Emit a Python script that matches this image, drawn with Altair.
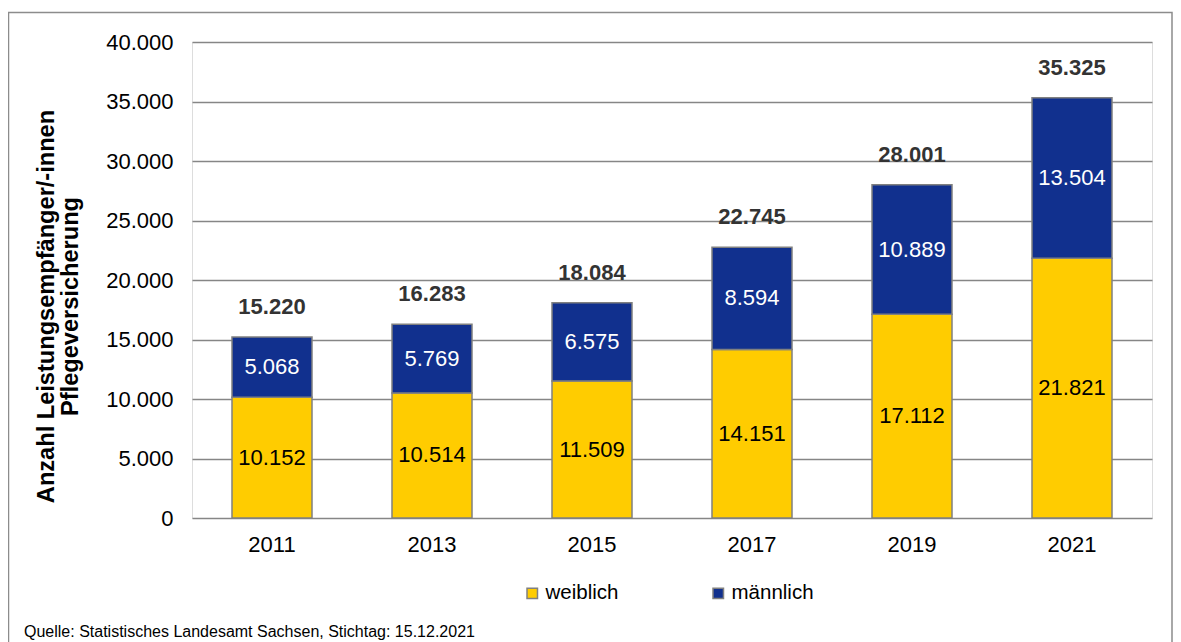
import altair as alt
import pandas as pd

years = ["2011", "2013", "2015", "2017", "2019", "2021"]
weiblich = [10152, 10514, 11509, 14151, 17112, 21821]
maennlich = [5068, 5769, 6575, 8594, 10889, 13504]
series = ["weiblich", "männlich"]
colors = ["#FFCC00", "#11308E"]
label_colors = ["#000000", "#FFFFFF"]

rows = []
for i, y in enumerate(years):
    rows.append({"Jahr": y, "Geschlecht": series[0], "Wert": weiblich[i], "ord": 0, "lc": label_colors[0]})
    rows.append({"Jahr": y, "Geschlecht": series[1], "Wert": maennlich[i], "ord": 1, "lc": label_colors[1]})
df = pd.DataFrame(rows)

FONT = "Liberation Sans"
de_fmt = "replace(format(datum.Wert, ','), ',', '.')"

x_enc = alt.X(
    "Jahr:N",
    sort=years,
    scale=alt.Scale(paddingInner=0.5, paddingOuter=0.25),
    axis=alt.Axis(
        title=None, labelAngle=0, labelFontSize=22, labelColor="#000000",
        labelFont=FONT, ticks=False, domain=False, labelPadding=16,
    ),
)

base = alt.Chart(df)

bars = base.mark_bar(stroke="#808080", strokeWidth=1.5).encode(
    x=x_enc,
    y=alt.Y(
        "Wert:Q",
        stack="zero",
        scale=alt.Scale(domain=[0, 40000], nice=False),
        axis=alt.Axis(
            values=[0, 5000, 10000, 15000, 20000, 25000, 30000, 35000, 40000],
            labelExpr="replace(format(datum.value, ','), ',', '.')",
            labelFontSize=22, labelColor="#000000", labelFont=FONT,
            ticks=False, domain=False, labelPadding=19,
            grid=True, gridColor="#868686", gridWidth=1.6,
            title=["Anzahl Leistungsempfänger/-innen", "Pflegeversicherung"],
            titleFont=FONT, titleFontSize=23.6, titleFontWeight="bold",
            titleColor="#000000", titleLineHeight=24,
            titleAngle=-90, titleAlign="center", titleBaseline="bottom",
            titleX=-134, titleY=264,
        ),
    ),
    color=alt.Color(
        "Geschlecht:N",
        scale=alt.Scale(domain=series, range=colors),
        legend=alt.Legend(
            title=None, orient="none", direction="horizontal",
            legendX=330, legendY=541,
            symbolType="square", symbolSize=110,
            symbolStrokeColor="#808080", symbolStrokeWidth=1.5,
            labelFontSize=20.5, labelFont=FONT, labelColor="#000000",
            labelOffset=3, columnPadding=89,
        ),
    ),
    order=alt.Order("ord:Q", sort="ascending"),
)

seg_labels = base.transform_stack(
    stack="Wert", groupby=["Jahr"], as_=["w0", "w1"], sort=[alt.SortField("ord", order="ascending")]
).transform_calculate(
    mid="(datum.w0 + datum.w1) / 2", txt=de_fmt
).mark_text(fontSize=22, font=FONT, baseline="middle", align="center").encode(
    x=alt.X("Jahr:N", sort=years),
    y=alt.Y("mid:Q"),
    text="txt:N",
    color=alt.Color("lc:N", scale=None),
)

totals = base.transform_aggregate(
    Wert="sum(Wert)", groupby=["Jahr"]
).transform_calculate(txt=de_fmt).mark_text(
    fontSize=22, font=FONT, fontWeight="bold", color="#333333",
    baseline="middle", align="center", dy=-30,
).encode(
    x=alt.X("Jahr:N", sort=years),
    y=alt.Y("Wert:Q"),
    text="txt:N",
)

border = alt.Chart(pd.DataFrame({"k": [0]})).mark_rect(
    fill=None, stroke="#8C8C8C", strokeWidth=1.5
).encode(
    x=alt.value(-183.5), x2=alt.value(980), y=alt.value(-29.5), y2=alt.value(700)
)

source = alt.Chart(pd.DataFrame({"t": ["Quelle: Statistisches Landesamt Sachsen, Stichtag: 15.12.2021"]})).mark_text(
    fontSize=16, font=FONT, color="#000000", align="left", baseline="middle"
).encode(
    x=alt.value(-168), y=alt.value(590), text="t:N"
)

chart = alt.layer(border, bars, seg_labels, totals, source).properties(
    width=960, height=476,
    autosize=alt.AutoSizeParams(type="none"),
    padding={"left": 184, "top": 34, "right": 21, "bottom": 124},
).configure_view(stroke=None).configure(background="#FFFFFF")

chart.save("out.html", embed_options={"renderer": "svg", "actions": False})
